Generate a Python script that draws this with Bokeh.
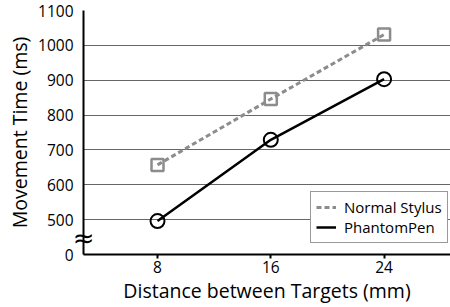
from bokeh.plotting import figure
from bokeh.models import FixedTicker, Range1d, Legend, LinearAxis
from bokeh.embed import file_html
from bokeh.resources import INLINE

distances = [8, 16, 24]
normal_stylus = [657, 846, 1031]
phantom_pen = [496, 729, 903]
y_ticks = [400, 500, 600, 700, 800, 900, 1000, 1100]
y_tick_labels = {400: "0"}
break_tick = [446]
break_label = {446: "≈"}
FONT = "Open Sans"

p = figure(width=450, height=307, output_backend="svg", toolbar_location=None,
           x_range=Range1d(2.774, 28.69), y_range=Range1d(400, 1100),
           min_border_left=83, min_border_right=0, min_border_top=10, min_border_bottom=53)
p.outline_line_color = None
p.background_fill_color = "white"

p.xgrid.grid_line_color = None
p.ygrid.grid_line_color = "#666666"
p.ygrid.grid_line_width = 1
p.ygrid.ticker = FixedTicker(ticks=y_ticks)

main_y = p.yaxis[0]
main_y.ticker = FixedTicker(ticks=y_ticks)
main_y.major_label_overrides = y_tick_labels
main_y.axis_line_color = None

p.xaxis.ticker = FixedTicker(ticks=distances)
p.xaxis.axis_line_color = "black"
p.xaxis.axis_line_width = 2

for ax in (p.xaxis[0], main_y):
    ax.major_label_text_font = FONT
    ax.major_label_text_font_size = "15.5px"
    ax.major_label_text_color = "black"
    ax.axis_label_text_font = FONT
    ax.axis_label_text_font_size = "19.5px"
    ax.axis_label_text_font_style = "normal"
    ax.axis_label_text_color = "black"
    ax.minor_tick_line_color = None

p.xaxis.axis_label = "Distance between Targets (mm)"
main_y.axis_label = "Movement Time (ms)"
p.xaxis.major_tick_in = 0
p.xaxis.major_tick_out = 4
p.xaxis.major_tick_line_width = 2
p.xaxis.major_tick_line_color = "black"
p.xaxis.major_label_standoff = 2
p.xaxis.axis_label_standoff = 1
main_y.major_tick_in = 0
main_y.major_tick_out = 0
main_y.major_label_standoff = -4
main_y.axis_label_standoff = 2

# inner axis carrying the axis line and the break mark
brk_axis = LinearAxis(ticker=FixedTicker(ticks=break_tick),
                      major_label_overrides=break_label,
                      axis_line_color="black", axis_line_width=2,
                      major_tick_in=0, major_tick_out=0, minor_tick_line_color=None,
                      major_label_standoff=-11,
                      major_label_text_font="DejaVu Sans",
                      major_label_text_font_size="26px",
                      major_label_text_color="black")
p.left = [brk_axis, main_y]

ln = p.line(distances, normal_stylus, line_color="#8c8c8c", line_width=3, line_dash="5 3")
p.scatter(distances, normal_stylus, marker="square", size=12, fill_color=None,
          line_color="#8c8c8c", line_width=2.5)
lp = p.line(distances, phantom_pen, line_color="black", line_width=2.5)
p.scatter(distances, phantom_pen, marker="circle", size=14, fill_color=None,
          line_color="black", line_width=2)

legend = Legend(items=[("Normal Stylus", [ln]), ("PhantomPen", [lp])],
                location=(227, 11))
legend.label_text_font = FONT
legend.label_text_font_size = "15px"
legend.label_text_color = "black"
legend.border_line_color = "#333333"
legend.border_line_width = 1
legend.background_fill_alpha = 1
legend.glyph_width = 20
legend.glyph_height = 14
legend.label_standoff = 8
legend.padding = 5
legend.spacing = 0
legend.margin = 0
legend.label_height = 19
p.add_layout(legend)

open("out.html", "w").write(file_html(p, INLINE))
